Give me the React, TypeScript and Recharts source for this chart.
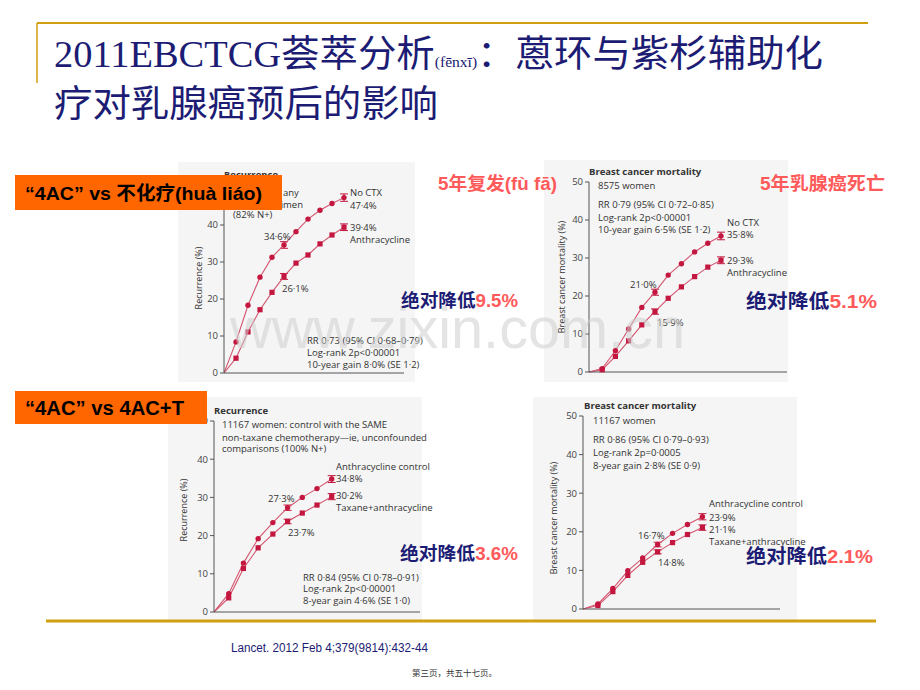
import React from 'react';
import { LineChart, Line, XAxis, YAxis, ErrorBar } from 'recharts';

// ---------- data ----------
const years10 = [0, 1, 2, 3, 4, 5, 6, 7, 8, 9, 10];
const c1NoCtx = [0, 8.4, 18.3, 25.9, 31.3, 34.6, 38.2, 41.6, 44.0, 45.8, 47.4];
const c1Anthra = [0, 4.0, 11.1, 17.1, 21.8, 26.1, 29.7, 31.9, 34.9, 37.3, 39.4];
const c1NoCtxErr = [0, 0, 0, 0, 0, 0.9, 0, 0, 0, 0, 1.0];
const c1AnthraErr = [0, 0, 0, 0, 0, 0.8, 0, 0, 0, 0, 0.9];

const c2NoCtx = [0, 0.9, 5.6, 11.3, 17.0, 21.0, 25.5, 28.5, 31.6, 33.9, 35.8];
const c2Anthra = [0, 0.6, 4.1, 8.2, 12.4, 15.9, 19.4, 22.4, 25.1, 27.6, 29.4];
const c2NoCtxErr = [0, 0, 0, 0, 0, 0.8, 0, 0, 0, 0, 1.0];
const c2AnthraErr = [0, 0, 0, 0, 0, 0.7, 0, 0, 0, 0, 0.9];

const years8 = [0, 1, 2, 3, 4, 5, 6, 7, 8];
const c3Control = [0, 4.8, 12.8, 19.2, 23.4, 27.3, 30.0, 32.3, 34.8];
const c3Taxane = [0, 3.7, 11.4, 16.8, 20.4, 23.7, 25.9, 28.0, 30.2];
const c3ControlErr = [0, 0, 0, 0, 0, 0.7, 0, 0, 0.9];
const c3TaxaneErr = [0, 0, 0, 0, 0, 0.6, 0, 0, 0.8];

const c4Control = [0, 1.3, 5.3, 9.9, 13.2, 16.7, 19.6, 21.9, 23.9];
const c4Taxane = [0, 0.9, 4.5, 8.7, 12.1, 14.8, 17.2, 19.3, 21.1];
const c4ControlErr = [0, 0, 0, 0, 0, 0.6, 0, 0, 0.8];
const c4TaxaneErr = [0, 0, 0, 0, 0, 0.5, 0, 0, 0.7];

const yTicks = [0, 10, 20, 30, 40, 50];
const xTicks10 = [5, 10];
const xTicks8 = [1, 2, 3, 4, 5, 6, 7, 8];

// ---------- styles ----------
const LINE = '#d4546f';
const MARK = '#c3173f';
const AXIS = '#555';
const FIG_FONT = '"Open Sans", "Liberation Sans", sans-serif';
const NAVY = '#1c1c74';
const RED = '#ff5a5a';
const GOLD = '#d1a010';

const build = (xs: number[], a: number[], b: number[], ae: number[], be: number[]) =>
  xs.map((x, i) => ({ year: x, a: a[i], b: b[i], aErr: ae[i], bErr: be[i] }));

const circleDot = (props: any) => {
  const { cx, cy, index, payload } = props;
  if (cx == null || cy == null || payload.year === 0) return <g key={`c${index}`} />;
  return <circle key={`c${index}`} cx={cx} cy={cy} r={2.7} fill={MARK} />;
};
const squareDot = (props: any) => {
  const { cx, cy, index, payload } = props;
  if (cx == null || cy == null || payload.year === 0) return <g key={`s${index}`} />;
  return <rect key={`s${index}`} x={cx - 2.6} y={cy - 2.6} width={5.2} height={5.2} fill={MARK} />;
};

type PanelProps = {
  left: number; top: number; width: number; height: number;
  data: any[]; xMax: number; xTicks: number[];
  yWidth: number; mTop: number; mRight: number; xHeight: number;
};

const Panel = ({ left, top, width, height, data, xMax, xTicks, yWidth, mTop, mRight, xHeight }: PanelProps) => (
  <div style={{ position: 'absolute', left, top, width, height, background: '#f5f5f5' }}>
    <LineChart width={width} height={height} data={data} margin={{ top: mTop, right: mRight, bottom: 0, left: 0 }}>
      <XAxis
        dataKey="year"
        type="number"
        domain={[0, xMax]}
        ticks={xTicks}
        tick={false}
        tickSize={4}
        height={xHeight}
        axisLine={{ stroke: AXIS }}
        tickLine={{ stroke: AXIS }}
        allowDataOverflow
      />
      <YAxis
        type="number"
        domain={[0, 50]}
        ticks={yTicks}
        width={yWidth}
        tickSize={4}
        tickMargin={2}
        interval={0}
        axisLine={{ stroke: AXIS }}
        tickLine={{ stroke: AXIS }}
        tick={{ fontSize: 9.5, fill: '#444', fontFamily: FIG_FONT }}
      />
      <Line type="linear" dataKey="a" stroke={LINE} strokeWidth={1.1} dot={circleDot} isAnimationActive={false}>
        <ErrorBar dataKey="aErr" width={4} stroke={MARK} strokeWidth={1} direction="y" />
      </Line>
      <Line type="linear" dataKey="b" stroke={LINE} strokeWidth={1.1} dot={squareDot} isAnimationActive={false}>
        <ErrorBar dataKey="bErr" width={4} stroke={MARK} strokeWidth={1} direction="y" />
      </Line>
    </LineChart>
  </div>
);

const T = ({ x, y, children, bold, anchor }: any) => (
  <text x={x} y={y} fontSize={9.5} fontFamily={FIG_FONT} fill="#333" fontWeight={bold ? 700 : 400} textAnchor={anchor || 'start'}>
    {children}
  </text>
);

const VLabel = ({ x, y, children }: any) => (
  <text x={x} y={y} fontSize={9} fontFamily={FIG_FONT} fill="#333" textAnchor="middle" dominantBaseline="central" transform={`rotate(-90 ${x} ${y})`}>
    {children}
  </text>
);

export default function App() {
  const d1 = build(years10, c1NoCtx, c1Anthra, c1NoCtxErr, c1AnthraErr);
  const d2 = build(years10, c2NoCtx, c2Anthra, c2NoCtxErr, c2AnthraErr);
  const d3 = build(years8, c3Control, c3Taxane, c3ControlErr, c3TaxaneErr);
  const d4 = build(years8, c4Control, c4Taxane, c4ControlErr, c4TaxaneErr);

  const cjkSans = '"Liberation Sans", "Noto Sans CJK SC", sans-serif';
  const titleFont = '"Liberation Serif", "Noto Sans CJK SC", serif';

  return (
    <div style={{ position: 'absolute', left: 0, top: 0, width: 920, height: 690, background: '#fff', overflow: 'hidden' }}>
      <Panel left={178} top={162} width={237} height={220} data={d1} xMax={15} xTicks={xTicks10} yWidth={46} mTop={26} mRight={11} xHeight={9} />
      <Panel left={544} top={160} width={244} height={222} data={d2} xMax={15} xTicks={xTicks10} yWidth={45} mTop={22} mRight={1} xHeight={10} />
      <Panel left={168} top={397} width={254} height={223} data={d3} xMax={14} xTicks={xTicks8} yWidth={46} mTop={24} mRight={2} xHeight={8} />
      <Panel left={533} top={397} width={264} height={223} data={d4} xMax={13.2} xTicks={xTicks8} yWidth={50} mTop={19} mRight={17} xHeight={11} />

      <svg width={920} height={690} style={{ position: 'absolute', left: 0, top: 0, pointerEvents: 'none' }}>
        {/* slide frame */}
        <line x1={37} y1={23} x2={868} y2={23} stroke={GOLD} strokeWidth={2} />
        <line x1={37} y1={23} x2={37} y2={83} stroke={GOLD} strokeWidth={1.5} />
        <line x1={46} y1={621} x2={876} y2={621} stroke={GOLD} strokeWidth={3} />

        {/* title */}
        <text x={54} y={67} fill={NAVY} fontSize={37} fontFamily={titleFont} textLength={769} lengthAdjust="spacingAndGlyphs">
          2011EBCTCG荟萃分析<tspan fontSize={15}>(fēnxī)</tspan>：蒽环与紫杉辅助化
        </text>
        <text x={54} y={117} fill={NAVY} fontSize={37} fontFamily={titleFont} textLength={384} lengthAdjust="spacingAndGlyphs">
          疗对乳腺癌预后的影响
        </text>

        {/* chart 1 texts */}
        <T x={224} y={178} bold>Recurrence</T>
        <T x={283} y={196}>any</T>
        <T x={303} y={208} anchor="end">regimen</T>
        <T x={233} y={218}>(82% N+)</T>
        <T x={350} y={196}>No CTX</T>
        <T x={350} y={209}>47·4%</T>
        <T x={350} y={231}>39·4%</T>
        <T x={350} y={243}>Anthracycline</T>
        <T x={264} y={240}>34·6%</T>
        <T x={282} y={292}>26·1%</T>
        <T x={307} y={344}>RR 0·73 (95% CI 0·68–0·79)</T>
        <T x={307} y={356}>Log-rank 2p&lt;0·00001</T>
        <T x={307} y={368}>10-year gain 8·0% (SE 1·2)</T>
        <VLabel x={198} y={278}>Recurrence (%)</VLabel>

        {/* chart 2 texts */}
        <T x={589} y={174.5} bold>Breast cancer mortality</T>
        <T x={598} y={189}>8575 women</T>
        <T x={598} y={208}>RR 0·79 (95% CI 0·72–0·85)</T>
        <T x={598} y={221}>Log-rank 2p&lt;0·00001</T>
        <T x={598} y={233}>10-year gain 6·5% (SE 1·2)</T>
        <T x={727} y={226}>No CTX</T>
        <T x={727} y={238}>35·8%</T>
        <T x={727} y={264}>29·3%</T>
        <T x={727} y={276}>Anthracycline</T>
        <T x={630} y={288}>21·0%</T>
        <T x={657} y={326}>15·9%</T>
        <VLabel x={561} y={277}>Breast cancer mortality (%)</VLabel>

        {/* chart 3 texts */}
        <T x={214} y={414} bold>Recurrence</T>
        <T x={222} y={428}>11167 women: control with the SAME</T>
        <T x={222} y={441}>non-taxane chemotherapy—ie, unconfounded</T>
        <T x={222} y={452}>comparisons (100% N+)</T>
        <T x={336} y={470}>Anthracycline control</T>
        <T x={336} y={482}>34·8%</T>
        <T x={336} y={499}>30·2%</T>
        <T x={336} y={511}>Taxane+anthracycline</T>
        <T x={268} y={502}>27·3%</T>
        <T x={288} y={536}>23·7%</T>
        <T x={303} y={581}>RR 0·84 (95% CI 0·78–0·91)</T>
        <T x={303} y={592}>Log-rank 2p&lt;0·00001</T>
        <T x={303} y={604}>8-year gain 4·6% (SE 1·0)</T>
        <VLabel x={183} y={510}>Recurrence (%)</VLabel>

        {/* chart 4 texts */}
        <T x={584} y={408.5} bold>Breast cancer mortality</T>
        <T x={593} y={424}>11167 women</T>
        <T x={593} y={443}>RR 0·86 (95% CI 0·79–0·93)</T>
        <T x={593} y={456}>Log-rank 2p=0·0005</T>
        <T x={593} y={469}>8-year gain 2·8% (SE 0·9)</T>
        <T x={709} y={507}>Anthracycline control</T>
        <T x={709} y={521}>23·9%</T>
        <T x={709} y={533}>21·1%</T>
        <T x={709} y={545}>Taxane+anthracycline</T>
        <T x={638} y={539}>16·7%</T>
        <T x={658} y={566}>14·8%</T>
        <VLabel x={553} y={518}>Breast cancer mortality (%)</VLabel>

        {/* watermark */}
        <text x={230} y={348} fontSize={58} fontFamily='"Liberation Sans", sans-serif' fill="#cfcfcf" opacity={0.55} textLength={455} lengthAdjust="spacingAndGlyphs">
          www.zixin.com.cn
        </text>

        {/* orange label boxes */}
        <rect x={15} y={175} width={267} height={35} fill="#ff6600" />
        <text x={25} y={200} fontSize={19} fontWeight={700} fontFamily={cjkSans} fill="#000" textLength={237} lengthAdjust="spacingAndGlyphs">
          “4AC” vs 不化疗(huà liáo)
        </text>
        <rect x={15} y={391} width={192} height={33} fill="#ff6600" />
        <text x={25} y={415} fontSize={20} fontWeight={700} fontFamily={cjkSans} fill="#000" textLength={159} lengthAdjust="spacingAndGlyphs">
          “4AC” vs 4AC+T
        </text>

        {/* red headings */}
        <text x={438} y={190} fontSize={18} fontWeight={700} fontFamily={cjkSans} fill={RED} textLength={119} lengthAdjust="spacingAndGlyphs">5年复发(fù fā)</text>
        <text x={760} y={190} fontSize={18} fontWeight={700} fontFamily={cjkSans} fill={RED} textLength={125} lengthAdjust="spacingAndGlyphs">5年乳腺癌死亡</text>

        {/* absolute reductions */}
        <text x={401} y={307} fontSize={18} fontWeight={700} fontFamily={cjkSans} textLength={117} lengthAdjust="spacingAndGlyphs">
          <tspan fill={NAVY}>绝对降低</tspan><tspan fill={RED}>9.5%</tspan>
        </text>
        <text x={746} y={308} fontSize={19} fontWeight={700} fontFamily={cjkSans} textLength={131} lengthAdjust="spacingAndGlyphs">
          <tspan fill={NAVY}>绝对降低</tspan><tspan fill={RED}>5.1%</tspan>
        </text>
        <text x={400} y={560} fontSize={18} fontWeight={700} fontFamily={cjkSans} textLength={118} lengthAdjust="spacingAndGlyphs">
          <tspan fill={NAVY}>绝对降低</tspan><tspan fill={RED}>3.6%</tspan>
        </text>
        <text x={746} y={563} fontSize={19} fontWeight={700} fontFamily={cjkSans} textLength={127} lengthAdjust="spacingAndGlyphs">
          <tspan fill={NAVY}>绝对降低</tspan><tspan fill={RED}>2.1%</tspan>
        </text>

        {/* footer */}
        <text x={231} y={652} fontSize={12} fontFamily='"Liberation Sans", sans-serif' fill={NAVY} textLength={197} lengthAdjust="spacingAndGlyphs">
          Lancet. 2012 Feb 4;379(9814):432-44
        </text>
        <text x={412} y={676} fontSize={8.5} fontFamily='"Noto Sans CJK SC", sans-serif' fill="#333">
          第三页，共五十七页。
        </text>
      </svg>
    </div>
  );
}
